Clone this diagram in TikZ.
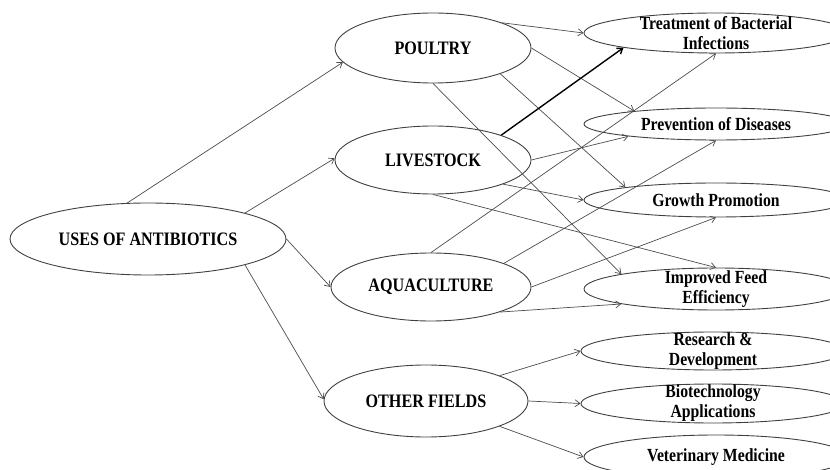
\documentclass[tikz,border=0pt]{standalone}
\usepackage{fontspec}
\setmainfont{Liberation Serif}[FakeStretch=0.85]
\usetikzlibrary{arrows.meta,shapes.geometric}
\tikzset{
  oval/.style={draw=black!75, line width=0.9pt, ellipse, inner sep=0pt},
  mainoval/.style={oval, font=\fontsize{19}{21}\selectfont\bfseries},
  leaf/.style={oval, minimum width=264pt},
  lbl/.style={font=\fontsize{18.5}{20}\selectfont\bfseries, align=center, inner sep=0pt},
  conn/.style={draw=black!70, line width=0.7pt, -{Straight Barb[length=5pt,width=7pt]}},
  thickconn/.style={conn, draw=black, line width=1.4pt}
}
\begin{document}
\begin{tikzpicture}[x=1pt,y=-1pt]
\useasboundingbox (0,0) rectangle (830,470);
\clip (0,0) rectangle (830,470);
% main ellipses
\node[mainoval, minimum width=276pt, minimum height=72pt] (uses) at (148,239) {USES OF ANTIBIOTICS};
\node[mainoval, minimum width=196pt, minimum height=70pt] (poultry) at (433,48) {POULTRY};
\node[mainoval, minimum width=196pt, minimum height=68pt] (livestock) at (433,160) {LIVESTOCK};
\node[mainoval, minimum width=200pt, minimum height=68pt] (aqua) at (431,287) {AQUACULTURE};
\node[mainoval, minimum width=204pt, minimum height=72pt] (other) at (426,401) {OTHER FIELDS};
% right ellipses
\node[leaf, minimum height=40pt, label={[lbl]center:Treatment of Bacterial\\Infections}] (treat) at (716,33) {};
\node[leaf, minimum height=32pt, label={[lbl]center:Prevention of Diseases}] (prev) at (716,124) {};
\node[leaf, minimum height=34pt, label={[lbl]center:Growth Promotion}] (growth) at (716,200) {};
\node[leaf, minimum height=42pt, label={[lbl]center:Improved Feed\\Efficiency}] (feed) at (716,289) {};
\node[leaf, minimum height=38pt, label={[lbl]center:Research \&\\Development}] (research) at (713,351) {};
\node[leaf, minimum height=39pt, label={[lbl]center:Biotechnology\\Applications}] (biotech) at (713,403.5) {};
\node[leaf, minimum height=44pt, label={[lbl]center:Veterinary Medicine}] (vet) at (716,457) {};
% connectors from main
\draw[conn] (uses.120) -- (poultry.189);
\draw[conn] (uses.15) -- (livestock.179);
\draw[conn] (uses.east) -- (aqua.west);
\draw[conn] (uses.345) -- (other.179);
% poultry
\draw[conn] (poultry.20) -- (treat.west);
\draw[conn] (poultry.east) -- (prev.171);
\draw[conn] (poultry.339) -- (growth.172);
\draw[conn] (poultry.south) -- (feed.171);
% livestock
\draw[thickconn] (livestock.20) -- (treat.189);
\draw[conn] (livestock.east) -- (prev.188);
\draw[conn] (livestock.341) -- (growth.west);
\draw[conn] (livestock.south) -- (feed.north);
% aquaculture
\draw[conn] (aqua.north) -- (treat.south);
\draw[conn] (aqua.18) -- (prev.south);
\draw[conn] (aqua.east) -- (growth.south);
\draw[conn] (aqua.340) -- (feed.189);
% other fields
\draw[conn] (other.19) -- (research.west);
\draw[conn] (other.east) -- (biotech.west);
\draw[conn] (other.341) -- (vet.west);
\end{tikzpicture}
\end{document}
